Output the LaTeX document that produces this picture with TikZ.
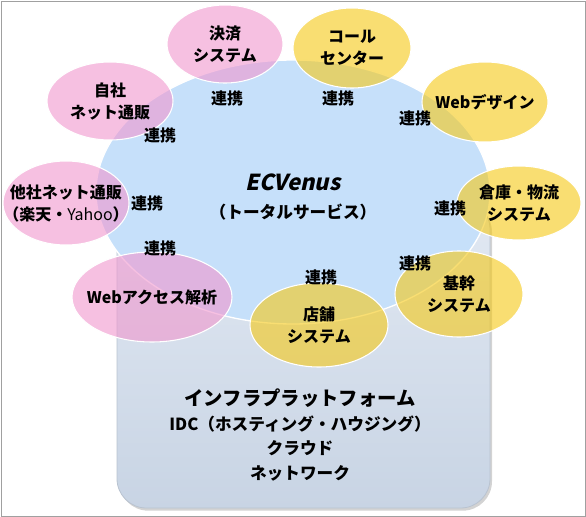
\documentclass[tikz,border=0pt]{standalone}
\usepackage{fontspec}
\setmainfont{Noto Sans CJK JP}
\newfontfamily\ecfont{Noto Sans CJK JP}[FakeSlant=0.22]
\usepackage{tikz}
\usetikzlibrary{shapes.geometric,shadows}
\definecolor{hubblue}{RGB}{198,224,250}
\definecolor{satpink}{RGB}{240,150,205}
\definecolor{satyellow}{RGB}{245,200,20}
\definecolor{infratop}{RGB}{226,233,243}
\definecolor{infrabot}{RGB}{200,212,228}
\definecolor{frameline}{RGB}{160,160,160}

\begin{document}
\begin{tikzpicture}[
  x=0.75pt, y=-0.75pt,
  font=\bfseries,
  sat/.style={ellipse, draw=white, line width=0.8pt, fill opacity=0.6, inner sep=0pt},
  pinksat/.style={sat, fill=satpink},
  yellowsat/.style={sat, fill=satyellow},
  sattext/.style={align=center, inner sep=0pt, font=\bfseries\fontsize{12}{16.5}\selectfont},
  link/.style={font=\bfseries\fontsize{12}{14}\selectfont, inner sep=1pt},
]
\useasboundingbox (0,0) rectangle (586,517);
\draw[frameline, line width=0.6pt] (1,1) rectangle (585,516);
% platform box under the hub
\path[draw=infrabot!80!gray, line width=0.6pt, top color=infratop, bottom color=infrabot, rounded corners=22pt,
  drop shadow={shadow xshift=1.5pt, shadow yshift=-2pt, opacity=0.35}]
  (117,200) rectangle (490,508);
\node[align=center, font=\bfseries\fontsize{12.5}{18.5}\selectfont] (infra) at (300,435)
  {{\fontsize{14.5}{18.5}\selectfont インフラプラットフォーム}\\IDC（ホスティング・ハウジング）\\クラウド\\ネットワーク};
% hub
\node[ellipse, fill=hubblue, draw=white, line width=1pt, minimum width=295.5pt, minimum height=198pt] (hub) at (293,192) {};
\node[align=center, font=\bfseries\fontsize{12.5}{21}\selectfont] (hubtext) at (293,197)
  {{\fontsize{16.5}{21}\selectfont\ecfont\bfseries ECVenus}\\（トータルサービス）};
% satellites
\node[pinksat, minimum width=87pt, minimum height=58.5pt, label={[sattext]center:{決済\\システム}}] (kessai) at (225,44) {};
\node[yellowsat, minimum width=88.5pt, minimum height=60pt, label={[sattext]center:{コール\\センター}}] (call) at (352,48) {};
\node[yellowsat, minimum width=94.5pt, minimum height=60pt, label={[sattext]center:{Webデザイン}}] (webdesign) at (485,102) {};
\node[yellowsat, minimum width=93pt, minimum height=55.5pt, label={[sattext]center:{倉庫・物流\\システム}}] (souko) at (519,203) {};
\node[yellowsat, minimum width=96pt, minimum height=64.5pt, label={[sattext]center:{基幹\\システム}}] (kikan) at (459,294) {};
\node[yellowsat, minimum width=103.5pt, minimum height=63pt, label={[sattext]center:{店舗\\システム}}] (tenpo) at (319,325) {};
\node[pinksat, minimum width=120pt, minimum height=67.5pt, label={[sattext]center:{Webアクセス解析}}] (webaccess) at (152,297) {};
\node[pinksat, minimum width=94.5pt, minimum height=63pt, label={[sattext]center:{他社ネット通販\\（楽天・{\mdseries Yahoo}）}}] (tasha) at (66,203) {};
\node[pinksat, minimum width=94.5pt, minimum height=58.5pt, label={[sattext]center:{自社\\ネット通販}}] (jisha) at (110,101) {};
% links
\node[link] (lkessai) at (227,98) {連携};
\node[link] (lcall) at (338,98) {連携};
\node[link] (lwebdesign) at (415,118) {連携};
\node[link] (lsouko) at (450,208) {連携};
\node[link] (lkikan) at (415,263) {連携};
\node[link] (ltenpo) at (321,277) {連携};
\node[link] (lwebaccess) at (160,248) {連携};
\node[link] (ltasha) at (147,203) {連携};
\node[link] (ljisha) at (160,135) {連携};
\end{tikzpicture}
\end{document}
